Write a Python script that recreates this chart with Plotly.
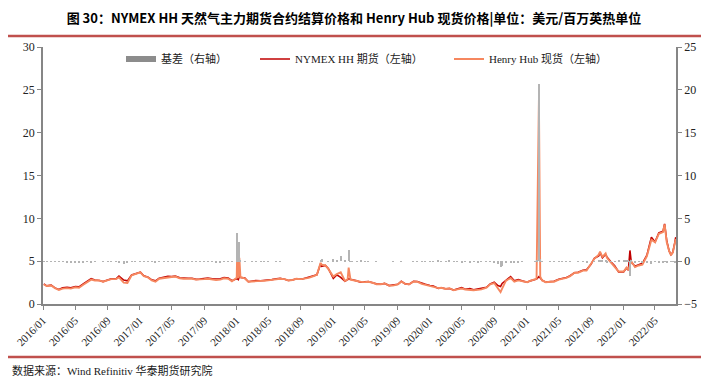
import plotly.graph_objects as go

# ---------------- data ----------------
dates = [
    # 2016
    "2016-01-04", "2016-01-15", "2016-02-01", "2016-02-15", "2016-03-01", "2016-03-15",
    "2016-04-01", "2016-04-15", "2016-05-02", "2016-05-16", "2016-06-01", "2016-06-15",
    "2016-07-01", "2016-07-15", "2016-08-01", "2016-08-15", "2016-09-01", "2016-09-15",
    "2016-10-03", "2016-10-14", "2016-11-01", "2016-11-15", "2016-12-01", "2016-12-15",
    # 2017
    "2017-01-03", "2017-01-16", "2017-02-01", "2017-02-15", "2017-03-01", "2017-03-15",
    "2017-04-03", "2017-04-17", "2017-05-01", "2017-05-15", "2017-06-01", "2017-06-15",
    "2017-07-03", "2017-07-17", "2017-08-01", "2017-08-15", "2017-09-01", "2017-09-15",
    "2017-10-02", "2017-10-16", "2017-11-01", "2017-11-15", "2017-12-01", "2017-12-15",
    # 2018
    "2018-01-02", "2018-01-04", "2018-01-08", "2018-01-12", "2018-01-16", "2018-02-01",
    "2018-02-15", "2018-03-01", "2018-03-15", "2018-04-02", "2018-04-16", "2018-05-01",
    "2018-05-15", "2018-06-01", "2018-06-15", "2018-07-02", "2018-07-16", "2018-08-01",
    "2018-08-15", "2018-09-04", "2018-09-14", "2018-10-01", "2018-10-15", "2018-11-01",
    "2018-11-15", "2018-11-19", "2018-12-03", "2018-12-14",
    # 2019
    "2019-01-02", "2019-01-15", "2019-01-30", "2019-02-15", "2019-02-25", "2019-03-01",
    "2019-03-08", "2019-03-15", "2019-04-01", "2019-04-15", "2019-05-01", "2019-05-15",
    "2019-06-03", "2019-06-14", "2019-07-01", "2019-07-15", "2019-08-01", "2019-08-15",
    "2019-09-03", "2019-09-16", "2019-10-01", "2019-10-15", "2019-11-01", "2019-11-15",
    "2019-12-02", "2019-12-16",
    # 2020
    "2020-01-02", "2020-01-15", "2020-02-03", "2020-02-14", "2020-03-02", "2020-03-16",
    "2020-04-01", "2020-04-15", "2020-05-01", "2020-05-15", "2020-06-01", "2020-06-15",
    "2020-07-01", "2020-07-15", "2020-08-03", "2020-08-17", "2020-09-01", "2020-09-15",
    "2020-09-25", "2020-10-01", "2020-10-15", "2020-11-02", "2020-11-16", "2020-12-01",
    "2020-12-15",
    # 2021
    "2021-01-04", "2021-01-15", "2021-02-01", "2021-02-08", "2021-02-17", "2021-02-22",
    "2021-03-01", "2021-03-15", "2021-04-01", "2021-04-15", "2021-05-03", "2021-05-14",
    "2021-06-01", "2021-06-15", "2021-07-01", "2021-07-15", "2021-08-02", "2021-08-16",
    "2021-09-01", "2021-09-15", "2021-10-01", "2021-10-06", "2021-10-15", "2021-10-27",
    "2021-11-01", "2021-11-15", "2021-12-01", "2021-12-15",
    # 2022
    "2022-01-03", "2022-01-14", "2022-01-21", "2022-01-27", "2022-02-01", "2022-02-15",
    "2022-03-01", "2022-03-15", "2022-04-01", "2022-04-18", "2022-05-02", "2022-05-16",
    "2022-06-01", "2022-06-07", "2022-06-15", "2022-06-24", "2022-07-01", "2022-07-08",
    "2022-07-15", "2022-07-19",
]

spot = [
    # 2016
    2.28, 2.10, 2.15, 1.85, 1.65, 1.80, 1.85, 1.80, 1.95, 1.90, 2.25, 2.55,
    2.85, 2.75, 2.75, 2.60, 2.80, 2.90, 2.90, 3.10, 2.50, 2.45, 3.35, 3.50,
    # 2017
    3.70, 3.25, 3.10, 2.75, 2.60, 2.95, 3.05, 3.15, 3.15, 3.20, 3.00, 2.95,
    2.95, 2.95, 2.85, 2.85, 2.90, 2.95, 2.90, 2.80, 2.85, 3.00, 2.95, 2.65,
    # 2018
    3.05, 6.25, 3.00, 5.40, 3.15, 3.00, 2.60, 2.65, 2.70, 2.70, 2.70, 2.75,
    2.85, 2.90, 2.95, 2.90, 2.75, 2.80, 2.95, 2.90, 2.95, 3.05, 3.20, 3.40,
    4.80, 4.60, 4.50, 4.10,
    # 2019
    3.20, 3.50, 3.70, 2.70, 2.85, 4.25, 2.85, 2.80, 2.65, 2.60, 2.55, 2.60,
    2.45, 2.30, 2.30, 2.40, 2.15, 2.15, 2.30, 2.60, 2.35, 2.30, 2.60, 2.60,
    2.35, 2.25,
    # 2020
    2.10, 2.05, 1.85, 1.90, 1.75, 1.85, 1.60, 1.70, 1.80, 1.70, 1.65, 1.60,
    1.65, 1.70, 1.90, 2.30, 2.45, 1.85, 1.40, 1.80, 2.70, 3.05, 2.60, 2.75,
    2.65,
    # 2021
    2.55, 2.70, 2.85, 2.95, 23.86, 3.20, 2.75, 2.55, 2.60, 2.60, 2.85, 2.90,
    3.05, 3.25, 3.65, 3.65, 3.90, 3.90, 4.60, 5.30, 5.75, 6.10, 5.50, 5.90,
    5.40, 4.90, 4.40, 3.80,
    # 2022
    3.80, 4.25, 4.00, 4.50, 5.00, 4.30, 4.50, 4.60, 5.60, 7.50, 7.20, 8.20,
    8.40, 9.30, 7.20, 6.20, 5.70, 6.00, 7.00, 7.60,
]

futures = [
    # 2016
    2.34, 2.12, 2.20, 1.88, 1.70, 1.88, 1.95, 1.90, 2.05, 2.00, 2.35, 2.60,
    2.95, 2.80, 2.75, 2.62, 2.85, 2.95, 2.95, 3.25, 2.80, 2.70, 3.40, 3.55,
    # 2017
    3.72, 3.30, 3.12, 2.82, 2.70, 3.00, 3.12, 3.22, 3.20, 3.25, 3.05, 3.00,
    3.00, 3.00, 2.88, 2.90, 2.95, 3.02, 2.95, 2.90, 2.95, 3.08, 3.02, 2.72,
    # 2018
    2.95, 2.95, 2.85, 3.20, 3.10, 3.05, 2.60, 2.70, 2.75, 2.72, 2.75, 2.78,
    2.85, 2.95, 3.00, 2.90, 2.75, 2.80, 2.95, 2.90, 3.00, 3.10, 3.25, 3.40,
    4.70, 4.40, 4.50, 4.15,
    # 2019
    3.00, 3.40, 3.10, 2.65, 2.85, 2.95, 2.88, 2.85, 2.70, 2.55, 2.58, 2.62,
    2.45, 2.35, 2.30, 2.40, 2.15, 2.20, 2.30, 2.65, 2.35, 2.30, 2.65, 2.62,
    2.40, 2.30,
    # 2020
    2.15, 2.10, 1.82, 1.88, 1.78, 1.80, 1.62, 1.75, 1.90, 1.72, 1.80, 1.65,
    1.75, 1.75, 1.95, 2.35, 2.55, 2.15, 2.05, 2.40, 2.80, 3.20, 2.70, 2.85,
    2.70,
    # 2021
    2.55, 2.70, 2.88, 2.90, 3.20, 3.00, 2.78, 2.55, 2.62, 2.65, 2.90, 2.95,
    3.10, 3.30, 3.65, 3.70, 3.95, 4.00, 4.60, 5.35, 5.60, 6.00, 5.40, 5.80,
    5.50, 4.95, 4.45, 3.75,
    # 2022
    3.75, 4.20, 3.95, 6.25, 4.90, 4.40, 4.55, 4.75, 5.70, 7.80, 7.25, 8.30,
    8.50, 9.35, 7.40, 6.20, 5.75, 6.05, 7.10, 7.80,
]

basis = [
    # 2016
    -0.06, -0.02, -0.05, -0.03, -0.05, -0.08, -0.10, -0.10, -0.10, -0.10, -0.10, -0.05,
    -0.10, -0.05, 0.00, -0.02, -0.05, -0.05, -0.05, -0.15, -0.30, -0.25, -0.05, -0.05,
    # 2017
    -0.02, -0.05, -0.02, -0.07, -0.10, -0.05, -0.07, -0.07, -0.05, -0.05, -0.05, -0.05,
    -0.05, -0.05, -0.03, -0.05, -0.05, -0.07, -0.05, -0.10, -0.10, -0.08, -0.07, -0.07,
    # 2018
    0.10, 3.30, 0.15, 2.20, 0.05, -0.05, 0.00, -0.05, -0.05, -0.02, -0.05, -0.03,
    0.00, -0.05, -0.05, 0.00, 0.00, 0.00, 0.00, 0.00, -0.05, -0.05, -0.05, 0.00,
    0.10, 0.20, 0.00, -0.05,
    # 2019
    0.20, 0.10, 0.60, 0.05, 0.00, 1.30, -0.03, -0.05, -0.05, 0.05, -0.03, -0.02,
    0.00, -0.05, 0.00, 0.00, 0.00, -0.05, 0.00, -0.05, 0.00, 0.00, -0.05, -0.02,
    -0.05, -0.05,
    # 2020
    -0.05, -0.05, 0.03, 0.02, -0.03, 0.05, -0.02, -0.05, -0.10, -0.02, -0.15, -0.05,
    -0.10, -0.05, -0.05, -0.05, -0.10, -0.30, -0.65, -0.60, -0.10, -0.15, -0.10, -0.10,
    -0.05,
    # 2021
    0.00, 0.00, -0.03, 0.05, 20.66, 0.20, -0.03, 0.00, -0.02, -0.05, -0.05, -0.05,
    -0.05, -0.05, 0.00, -0.05, -0.05, -0.10, 0.00, -0.05, 0.15, 0.10, 0.10, 0.10,
    -0.10, -0.05, -0.05, 0.05,
    # 2022
    0.05, 0.05, 0.05, -1.75, 0.10, -0.10, -0.05, -0.15, -0.10, -0.30, -0.05, -0.10,
    -0.10, -0.05, -0.20, 0.00, -0.05, -0.05, -0.10, -0.20,
]

title_text = "<b>图 30：NYMEX HH 天然气主力期货合约结算价格和 Henry Hub 现货价格|单位：美元/百万英热单位</b>"
source_text = "数据来源：Wind Refinitiv 华泰期货研究院"
name_basis = "基差（右轴）"
name_fut = "NYMEX HH 期货（左轴）"
name_spot = "Henry Hub 现货（左轴）"

# ---------------- layout geometry ----------------
# The page body has an 8px margin, so the figure is drawn 8px right/down of
# the window origin. All reference pixel positions are shifted by OFF.
OFF = 8
W, H = 709 - OFF, 389 - OFF
PL, PR, PT, PB = 43 - OFF, 676 - OFF, 47 - OFF, 304 - OFF  # plot area (figure px)


def px_x(px):  # reference px -> paper x
    return (px - OFF - PL) / (PR - PL)


def px_y(py):  # reference px -> paper y
    return (PB - (py - OFF)) / (PB - PT)


def cx(px):  # reference px -> container x
    return (px - OFF) / W


def cy(py):  # reference px -> container y
    return 1 - (py - OFF) / H


SERIF = "Liberation Serif, Times New Roman, Noto Sans CJK SC, serif"
CJK_BOLD = "Noto Sans CJK SC, sans-serif"
AXIS_GRAY = "#868686"
RED_LINE = "#C0504D"

fig = go.Figure()

fig.add_trace(go.Bar(
    x=dates, y=basis, yaxis="y2", name=name_basis, showlegend=False,
    marker=dict(color="#B4B4B4", line=dict(width=0)),
    width=4 * 86400000,
))
# legend swatch for the basis bars
fig.add_trace(go.Scatter(
    x=[None], y=[None], mode="lines", name=name_basis, legend="legend",
    line=dict(color="#8C8C8C", width=6),
))
fig.add_trace(go.Scatter(
    x=dates, y=futures, mode="lines", name=name_fut, legend="legend2",
    line=dict(color="#C00000", width=1.6),
))
fig.add_trace(go.Scatter(
    x=dates, y=spot, mode="lines", name=name_spot, legend="legend3",
    line=dict(color="#F6875F", width=1.9),
))

legend_common = dict(
    orientation="h", xref="container", yref="container", yanchor="middle",
    y=cy(59), bgcolor="rgba(0,0,0,0)",
    font=dict(family=SERIF, size=11, color="#1a1a1a"),
)

fig.update_layout(
    width=W, height=H,
    margin=dict(l=PL, r=W - PR, t=PT, b=H - PB, autoexpand=False),
    paper_bgcolor="white", plot_bgcolor="white",
    showlegend=True,
    bargap=0,
    title=dict(text=title_text, x=cx(354), xanchor="center", y=cy(18), yanchor="middle",
               xref="container", yref="container",
               font=dict(family=CJK_BOLD, size=13, color="#000000")),
    legend=dict(legend_common, x=cx(121)),
    legend2=dict(legend_common, x=cx(255)),
    legend3=dict(legend_common, x=cx(449)),
    xaxis=dict(
        type="date", range=["2016-01-01", "2022-07-20"],
        tick0="2016-01-01", dtick="M4", tickformat="%Y/%m", tickangle=-45,
        ticks="outside", ticklen=4, tickcolor=AXIS_GRAY,
        showline=True, linecolor=AXIS_GRAY, linewidth=1.5,
        showgrid=False, zeroline=False,
        tickfont=dict(family=SERIF, size=11, color="#222222"),
        automargin=False,
    ),
    yaxis=dict(
        range=[0, 30], dtick=5, ticks="outside", ticklen=4, tickcolor=AXIS_GRAY,
        showline=True, linecolor=AXIS_GRAY, linewidth=1.5,
        showgrid=False, zeroline=False,
        tickfont=dict(family=SERIF, size=12, color="#222222"),
        automargin=False,
    ),
    yaxis2=dict(
        range=[-5, 25], dtick=5, overlaying="y", side="right",
        ticks="outside", ticklen=4, tickcolor=AXIS_GRAY,
        showline=True, linecolor=AXIS_GRAY, linewidth=1.5,
        showgrid=False, zeroline=False,
        tickfont=dict(family=SERIF, size=12, color="#222222"),
        automargin=False,
    ),
    shapes=[
        dict(type="line", xref="paper", yref="paper",
             x0=px_x(OFF), x1=px_x(707), y0=px_y(36), y1=px_y(36),
             line=dict(color=RED_LINE, width=2.5)),
        dict(type="line", xref="paper", yref="paper",
             x0=px_x(OFF), x1=px_x(707), y0=px_y(357), y1=px_y(357),
             line=dict(color=RED_LINE, width=2.5)),
    ],
    annotations=[
        dict(text=source_text, xref="paper", yref="paper", x=px_x(10), y=px_y(370),
             xanchor="left", yanchor="middle", showarrow=False,
             font=dict(family=SERIF, size=11, color="#1a1a1a")),
    ],
)

fig.write_html("out.html")
